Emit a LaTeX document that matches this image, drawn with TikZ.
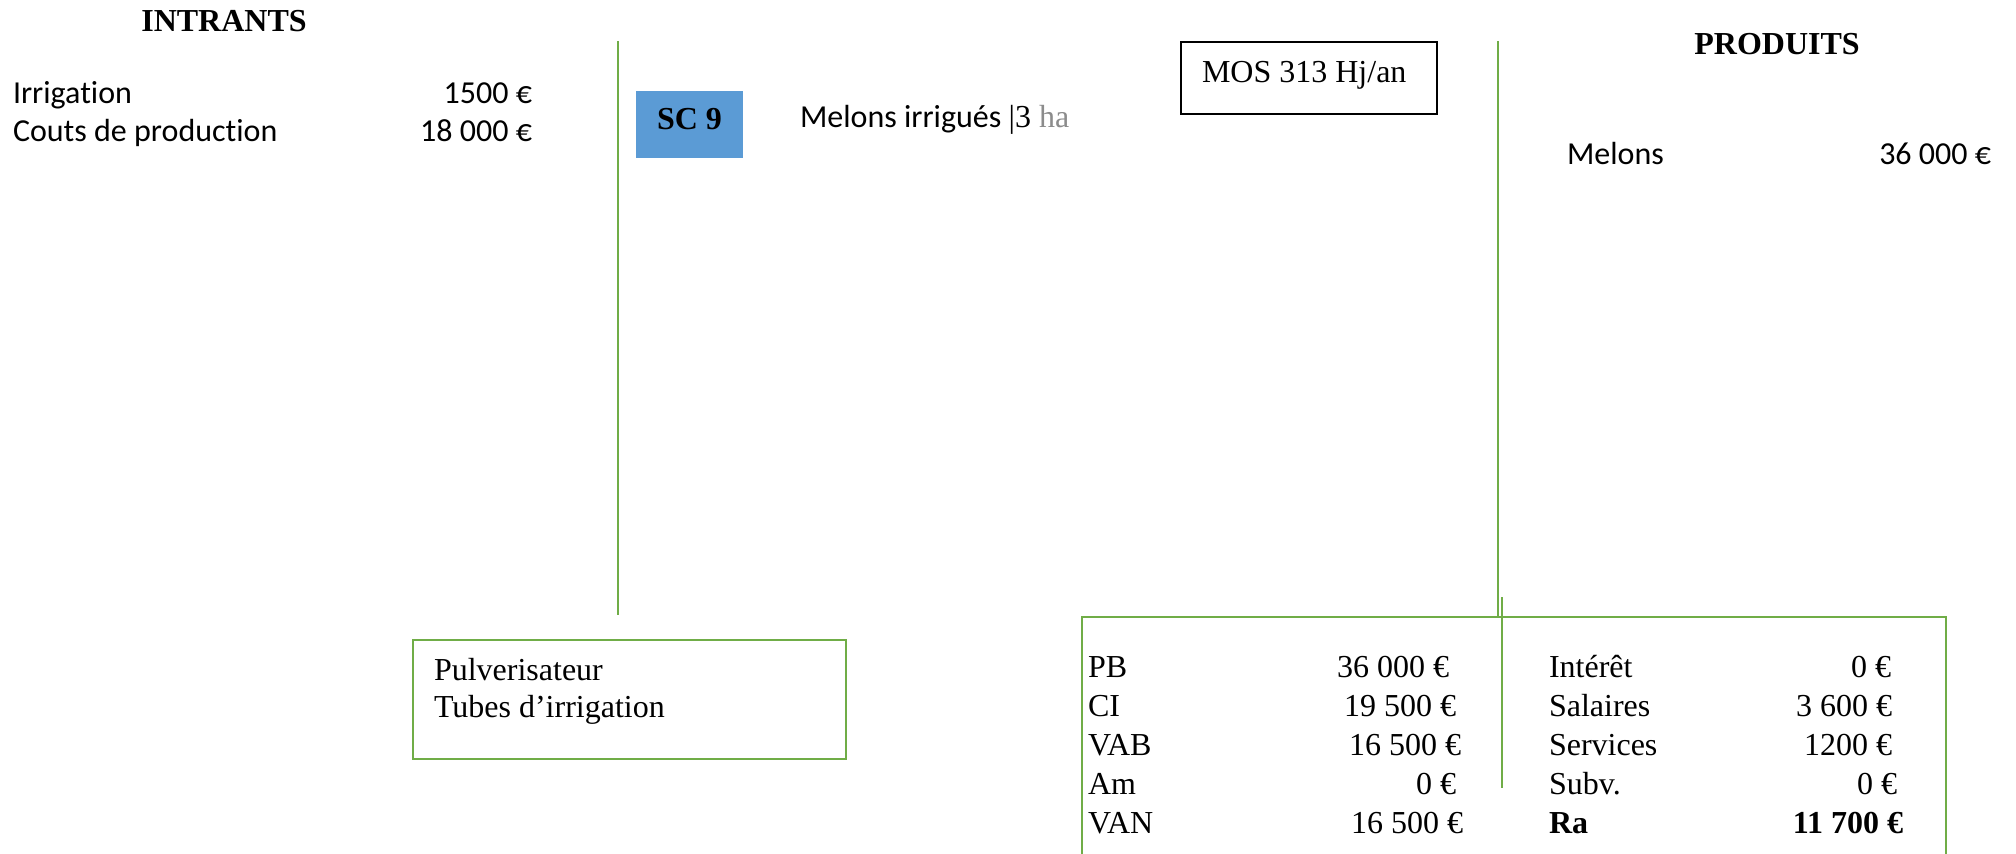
\documentclass[tikz,border=0pt]{standalone}
\usepackage{fontspec}
\setmainfont{Liberation Serif}
\newfontfamily\calib[Ligatures=NoCommon]{Carlito}
\definecolor{vert}{HTML}{70AD47}
\definecolor{bleu}{HTML}{5B9BD5}
\definecolor{grisha}{HTML}{8C8C8C}
\begin{document}
\begin{tikzpicture}[x=0.5pt,y=-0.5pt,
  every node/.style={inner sep=0pt, outer sep=0pt, font=\fontsize{16}{19}\selectfont},
  sans/.style={font=\fontsize{16}{19}\selectfont\calib},
  bold/.style={font=\fontsize{16}{19}\selectfont\bfseries},
  lw/.style={anchor=base west},
  le/.style={anchor=base east},
  greenline/.style={draw=vert, line width=0.75pt},
  greenbox/.style={draw=vert, line width=1.1pt},
  blackbox/.style={draw=black, line width=1pt}]
\useasboundingbox (0,0) rectangle (2016,854);

% titles
\node[bold, anchor=base] (intrants) at (224,32) {INTRANTS};
\node[bold, anchor=base] (produits) at (1777,55) {PRODUITS};

% intrants
\node[sans, lw] (irr) at (13,104) {Irrigation};
\node[sans, le] (irrv) at (532,104) {1500 €};
\node[sans, lw] (cout) at (13,142) {Couts de production};
\node[sans, le] (coutv) at (532,142) {18 000 €};

% separators
\coordinate (l1a) at (618,41);
\coordinate (l1b) at (618,615);
\coordinate (l2a) at (1498,41);
\coordinate (l2b) at (1498,616);
\coordinate (l3a) at (1502,597);
\coordinate (l3b) at (1502,788);
\draw[greenline] (l1a) -- (l1b);
\draw[greenline] (l2a) -- (l2b);
\draw[greenline] (l3a) -- (l3b);

% SC 9
\node[fill=bleu, minimum width=53.5pt, minimum height=33.5pt] (scbox) at (689.5,124.5) {};
\node[bold, anchor=base] (sc) at (689.5,130) {SC 9};
\node[lw] (culture) at (800,128) {{\calib Melons irrigués }|3 {\color{grisha}ha}};

% MOS
\node[blackbox, minimum width=128pt, minimum height=36pt] (mosbox) at (1309,78) {};
\node[lw] (mos) at (1202,83) {MOS 313 Hj/an};

% produits
\node[sans, lw] (mel) at (1567,165) {Melons};
\node[sans, le] (melv) at (1991,165) {36 000 €};

% materiel
\node[greenbox, minimum width=216.5pt, minimum height=59.5pt] (matbox) at (629.5,699.5) {};
\node[lw] (pulv) at (434,680) {Pulverisateur};
\node[lw] (tube) at (434,717) {Tubes d’irrigation};

% resultats
\coordinate (r1) at (1082,860);
\coordinate (r2) at (1082,617);
\coordinate (r3) at (1946,617);
\coordinate (r4) at (1946,860);
\draw[greenbox] (r1) -- (r2) -- (r3) -- (r4);

\node[lw] (pb) at (1088,677) {PB};
\node[le] (pbv) at (1449,677) {36 000 €};
\node[lw] (ci) at (1088,716) {CI};
\node[le] (civ) at (1456,716) {19 500 €};
\node[lw] (vab) at (1088,755) {VAB};
\node[le] (vabv) at (1461,755) {16 500 €};
\node[lw] (am) at (1088,794) {Am};
\node[le] (amv) at (1456,794) {0 €};
\node[lw] (van) at (1088,833) {VAN};
\node[le] (vanv) at (1463,833) {16 500 €};

\node[lw] (int) at (1549,677) {Intérêt};
\node[le] (intv) at (1891,677) {0 €};
\node[lw] (sal) at (1549,716) {Salaires};
\node[le] (salv) at (1892,716) {3 600 €};
\node[lw] (ser) at (1549,755) {Services};
\node[le] (serv) at (1892,755) {1200 €};
\node[lw] (sub) at (1549,794) {Subv.};
\node[le] (subv) at (1897,794) {0 €};
\node[bold, lw] (ra) at (1549,833) {Ra};
\node[bold, le] (rav) at (1903,833) {11 700 €};
\end{tikzpicture}
\end{document}
